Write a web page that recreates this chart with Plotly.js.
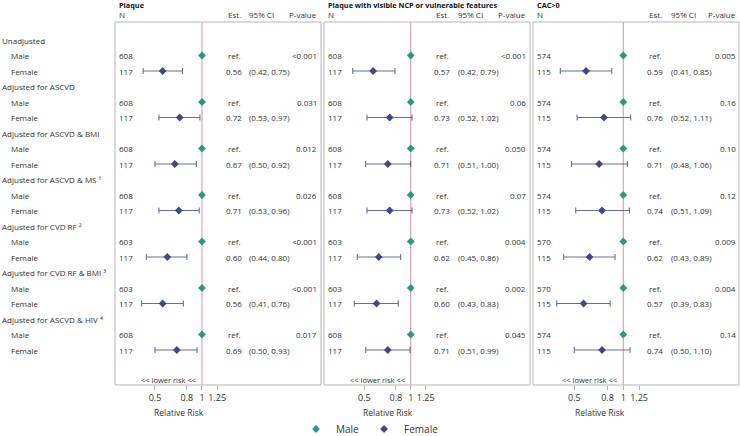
<!DOCTYPE html>
<html>
<head>
<meta charset="utf-8">
<script src="https://cdn.plot.ly/plotly-3.0.1.min.js"></script>
<style>
  body { margin: 0; background: #fff; }
  #chart { width: 740px; height: 436px; }
</style>
</head>
<body>
<div id="chart"></div>
<script>
// row groups (model adjustments)
const groups = ['Unadjusted', 'Adjusted for ASCVD', 'Adjusted for ASCVD & BMI', 'Adjusted for ASCVD & MS \u00b9',
    'Adjusted for CVD RF \u00b2', 'Adjusted for CVD RF & BMI \u00b3', 'Adjusted for ASCVD & HIV \u2074'];
const sexes = ['Male', 'Female'];
const outcomes = ['Plaque', 'Plaque with visible NCP or vulnerable features', 'CAC>0'];
const tickVals = [0.5, 0.8, 1, 1.25];
const tickText = ['0.5', '0.8', '1', '1.25'];

// Plaque
const plaqueNMale = [608, 608, 608, 608, 603, 603, 608];
const plaqueNFemale = [117, 117, 117, 117, 117, 117, 117];
const plaqueEst = [0.56, 0.72, 0.67, 0.71, 0.60, 0.56, 0.69];
const plaqueLo = [0.42, 0.53, 0.50, 0.53, 0.44, 0.41, 0.50];
const plaqueHi = [0.75, 0.97, 0.92, 0.96, 0.80, 0.76, 0.93];
const plaqueP = ['<0.001', '0.031', '0.012', '0.026', '<0.001', '<0.001', '0.017'];

// Plaque with visible NCP or vulnerable features
const ncpNMale = [608, 608, 608, 608, 603, 603, 608];
const ncpNFemale = [117, 117, 117, 117, 117, 117, 117];
const ncpEst = [0.57, 0.73, 0.71, 0.73, 0.62, 0.60, 0.71];
const ncpLo = [0.42, 0.52, 0.51, 0.52, 0.45, 0.43, 0.51];
const ncpHi = [0.79, 1.02, 1.00, 1.02, 0.86, 0.83, 0.99];
const ncpP = ['<0.001', '0.06', '0.050', '0.07', '0.004', '0.002', '0.045'];

// CAC>0
const cacNMale = [574, 574, 574, 574, 570, 570, 574];
const cacNFemale = [115, 115, 115, 115, 115, 115, 115];
const cacEst = [0.59, 0.76, 0.71, 0.74, 0.62, 0.57, 0.74];
const cacLo = [0.41, 0.52, 0.48, 0.51, 0.43, 0.39, 0.50];
const cacHi = [0.85, 1.11, 1.06, 1.09, 0.89, 0.83, 1.10];
const cacP = ['0.005', '0.16', '0.10', '0.12', '0.009', '0.004', '0.14'];

const W = 740, H = 436, TOP = 22, BOTTOM = 385;
const px = v => v / W;
const py = v => (BOTTOM - v) / (BOTTOM - TOP);

const maleColor = '#2b9884';
const femaleColor = '#3e4a88';
const textColor = '#333333';
const fontFam = '"Open Sans", "Noto Sans", sans-serif';
const small = 8;

// panel geometry (pixels) and column positions
const panels = [
    { data: [plaqueNMale, plaqueNFemale, plaqueEst, plaqueLo, plaqueHi, plaqueP],
      box: [115, 321], range: [-0.557, 0.762], nX: 117, estX: 234, ciX: 247, pX: 319 },
    { data: [ncpNMale, ncpNFemale, ncpEst, ncpLo, ncpHi, ncpP],
      box: [324, 530], range: [-0.563, 0.774], nX: 326, estX: 442, ciX: 456, pX: 528 },
    { data: [cacNMale, cacNFemale, cacEst, cacLo, cacHi, cacP],
      box: [533, 739], range: [-0.555, 0.711], nX: 535, estX: 655, ciX: 669, pX: 738 }
];

let traces = [];
let annotations = [];
let shapes = [];
let layout = {
    width: W, height: H, autosize: false,
    margin: { l: 0, r: 0, t: TOP, b: H - BOTTOM, pad: 0, autoexpand: false },
    paper_bgcolor: '#fff', plot_bgcolor: '#fff',
    font: { family: fontFam, size: small, color: textColor },
    showlegend: true,
    legend: { orientation: 'h', x: 0.5, xanchor: 'center', yref: 'container', y: 0.016, yanchor: 'middle',
        font: { size: 10, color: textColor }, bgcolor: 'rgba(0,0,0,0)', itemwidth: 30, tracegroupgap: 0 },
    yaxis: { range: [groups.length * 3 + 1.258, -1.161], visible: false, fixedrange: true, domain: [0, 1] }
};

// left labels
groups.forEach((g, i) => {
    annotations.push({ xref: 'paper', yref: 'y', x: px(0), y: i * 3, text: g, showarrow: false,
        xanchor: 'left', yanchor: 'middle', font: { size: small } });
    sexes.forEach((s, j) => {
        annotations.push({ xref: 'paper', yref: 'y', x: px(9), y: i * 3 + 1 + j, text: s, showarrow: false,
            xanchor: 'left', yanchor: 'middle', font: { size: small } });
    });
});

panels.forEach((p, idx) => {
    const ax = idx === 0 ? 'x' : 'x' + (idx + 1);
    const axKey = idx === 0 ? 'xaxis' : 'xaxis' + (idx + 1);
    const [nMale, nFemale, est, lo, hi, pv] = p.data;

    layout[axKey] = {
        type: 'log', range: p.range, domain: [px(p.box[0]), px(p.box[1])], anchor: 'y',
        tickvals: tickVals, ticktext: tickText, ticks: 'outside', ticklen: 4, tickcolor: '#b0b0b0',
        tickfont: { size: 9, color: textColor }, showgrid: false, zeroline: false, showline: false,
        fixedrange: true, automargin: false
    };

    const maleY = groups.map((g, i) => i * 3 + 1);
    const femaleY = groups.map((g, i) => i * 3 + 2);

    // reference line at RR = 1
    traces.push({ x: [1, 1], y: [-1.161, groups.length * 3 + 1.258], xaxis: ax, yaxis: 'y',
        mode: 'lines', line: { color: '#e2a3ad', width: 1.2 }, showlegend: false, hoverinfo: 'skip' });

    traces.push({ x: groups.map(() => 1), y: maleY, xaxis: ax, yaxis: 'y', mode: 'markers', name: 'Male',
        marker: { symbol: 'diamond', size: 6, color: maleColor }, showlegend: idx === 0, legendgroup: 'm' });

    traces.push({ x: est, y: femaleY, xaxis: ax, yaxis: 'y', mode: 'markers', name: 'Female',
        marker: { symbol: 'diamond', size: 6, color: femaleColor },
        error_x: { type: 'data', symmetric: false, array: hi.map((h, i) => h - est[i]),
            arrayminus: lo.map((l, i) => est[i] - l), color: 'rgba(62,74,136,0.8)', thickness: 1.1, width: 3 },
        showlegend: idx === 0, legendgroup: 'f' });

    // panel box
    shapes.push({ type: 'rect', xref: ax + ' domain', yref: 'y domain', x0: 0, x1: 1, y0: 0, y1: 1,
        line: { color: '#b5b5b5', width: 1 }, layer: 'below' });

    // headers
    annotations.push({ xref: 'paper', yref: 'paper', x: px(p.nX), y: py(5), text: '<b>' + outcomes[idx] + '</b>',
        showarrow: false, xanchor: 'left', yanchor: 'middle', font: { size: 7.3, color: '#111' } });
    annotations.push({ xref: 'paper', yref: 'paper', x: px(p.nX), y: py(15), text: 'N',
        showarrow: false, xanchor: 'left', yanchor: 'middle' });
    annotations.push({ xref: 'paper', yref: 'paper', x: px(p.estX - 8), y: py(15), text: 'Est.',
        showarrow: false, xanchor: 'left', yanchor: 'middle' });
    annotations.push({ xref: 'paper', yref: 'paper', x: px(p.ciX), y: py(15), text: '95% CI',
        showarrow: false, xanchor: 'left', yanchor: 'middle' });
    annotations.push({ xref: 'paper', yref: 'paper', x: px(p.pX), y: py(15), text: 'P-value',
        showarrow: false, xanchor: 'right', yanchor: 'middle' });

    // table columns
    groups.forEach((g, i) => {
        const ym = i * 3 + 1, yf = i * 3 + 2;
        annotations.push({ xref: 'paper', yref: 'y', x: px(p.nX), y: ym, text: String(nMale[i]),
            showarrow: false, xanchor: 'left', yanchor: 'middle' });
        annotations.push({ xref: 'paper', yref: 'y', x: px(p.nX), y: yf, text: String(nFemale[i]),
            showarrow: false, xanchor: 'left', yanchor: 'middle' });
        annotations.push({ xref: 'paper', yref: 'y', x: px(p.estX), y: ym, text: 'ref.',
            showarrow: false, xanchor: 'center', yanchor: 'middle' });
        annotations.push({ xref: 'paper', yref: 'y', x: px(p.estX), y: yf, text: est[i].toFixed(2),
            showarrow: false, xanchor: 'center', yanchor: 'middle' });
        annotations.push({ xref: 'paper', yref: 'y', x: px(p.ciX), y: yf,
            text: '(' + lo[i].toFixed(2) + ', ' + hi[i].toFixed(2) + ')',
            showarrow: false, xanchor: 'left', yanchor: 'middle' });
        annotations.push({ xref: 'paper', yref: 'y', x: px(p.pX), y: ym, text: pv[i],
            showarrow: false, xanchor: 'right', yanchor: 'middle' });
    });

    // lower risk note and axis title, placed relative to RR = 1
    const oneLog = 0;
    const onePx = p.box[0] + (oneLog - p.range[0]) / (p.range[1] - p.range[0]) * (p.box[1] - p.box[0]);
    annotations.push({ xref: 'paper', yref: 'paper', x: px(onePx - 4), y: py(380), text: '&lt;&lt; lower risk &lt;&lt;',
        showarrow: false, xanchor: 'right', yanchor: 'middle', font: { size: 7.5 } });
    annotations.push({ xref: 'paper', yref: 'paper', x: px(onePx - 23), y: py(412), text: 'Relative Risk',
        showarrow: false, xanchor: 'center', yanchor: 'middle', font: { size: 8.5 } });
});

layout.annotations = annotations;
layout.shapes = shapes;

const config = { displayModeBar: false, staticPlot: true };

Plotly.newPlot('chart', traces, layout, config);
</script>
</body>
</html>
